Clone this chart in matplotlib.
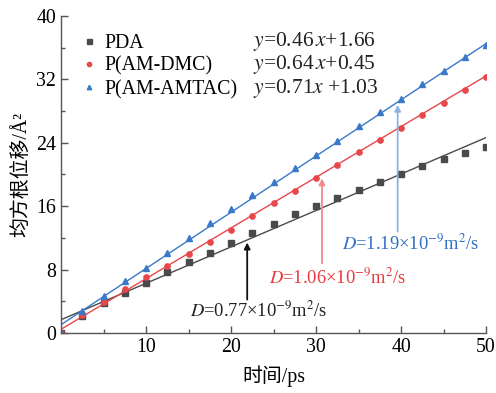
import numpy as np
import matplotlib
matplotlib.use("Agg")
import matplotlib.pyplot as plt

plt.rcParams['font.family'] = ['Liberation Serif', 'Noto Sans CJK SC']
plt.rcParams['mathtext.fontset'] = 'stix'
plt.rcParams['font.size'] = 14.3

# time (ps)
t = [0, 2.5, 5, 7.5, 10, 12.5, 15, 17.5, 20, 22.5, 25, 27.5, 30,
     32.5, 35, 37.5, 40, 42.5, 45, 47.5, 50]

# mean square displacement values
pda = [0, 2.1, 3.8, 5.05, 6.35, 7.7, 8.9, 10.1, 11.4, 12.6, 13.8, 15.0, 16.0,
       17.05, 18.0, 19.1, 20.1, 21.1, 21.9, 22.7, 23.5]
dmc = [0, 2.2, 3.95, 5.5, 7.0, 8.5, 9.95, 11.5, 13.0, 14.75, 16.35, 17.95, 19.5,
       21.2, 22.8, 24.3, 25.9, 27.5, 29.05, 30.65, 32.35]
amtac = [0, 2.7, 4.65, 6.55, 8.25, 10.1, 12.0, 13.9, 15.7, 17.4, 19.1, 20.8, 22.4,
         24.2, 26.1, 27.85, 29.55, 31.4, 33.1, 34.8, 36.4]

labels = ['PDA', 'P(AM-DMC)', 'P(AM-AMTAC)']
slopes = [0.46, 0.64, 0.71]
intercepts = [1.66, 0.45, 1.03]
eq_texts = [r'$y$=0.46$\,x$+1.66', r'$y$=0.64$\,x$+0.45', r'$y$=0.71$x$ +1.03']
d_texts = [r'$D$=0.77×10$^{-9}$m$^{2}$/s',
           r'$D$=1.06×10$^{-9}$m$^{2}$/s',
           r'$D$=1.19×10$^{-9}$m$^{2}$/s']

colors = ['#4a4a4a', '#e8474c', '#3a78c9']
arrow_colors = ['#111111', '#f08a8c', '#8db3e2']
text_colors = ['#222222', '#e8383d', '#2f6fc4']
markers = ['s', 'o', '^']
msizes = [4.5, 3.8, 4.0]

fig = plt.figure(figsize=(4.96, 3.93), dpi=100)
ax = fig.add_axes([0.123, 0.153, 0.857, 0.806])

xs = np.array([0, 50])
series = [pda, dmc, amtac]
for i in range(3):
    ax.plot(t, series[i], linestyle='none', marker=markers[i], ms=msizes[i],
            color=colors[i], label=labels[i])
    ax.plot(xs, slopes[i] * xs + intercepts[i], color=colors[i], lw=1.0)

# equations next to the legend
eq_y = [36.8, 33.9, 30.9]
for i in range(3):
    ax.text(22.6, eq_y[i], eq_texts[i], ha='left', va='center', color='#222222',
            fontsize=15.5)

# arrows and diffusion coefficients
arrow_x = [21.9, 30.7, 39.6]
arrow_top = [11.4, 19.5, 28.8]
arrow_bottom = [4.2, 8.8, 12.8]
text_x = [23.3, 32.5, 41.1]
text_y = [2.8, 7.0, 11.35]
for i in range(3):
    ax.annotate('', xy=(arrow_x[i], arrow_top[i]), xytext=(arrow_x[i], arrow_bottom[i]),
                arrowprops=dict(arrowstyle='-|>', color=arrow_colors[i], lw=1.3,
                                mutation_scale=9, shrinkA=0, shrinkB=0))
    ax.text(text_x[i], text_y[i], d_texts[i], ha='center', va='center',
            color=text_colors[i], fontsize=13.3)

ax.set_xlim(0, 50)
ax.set_ylim(0, 40)
ax.set_xticks([10, 20, 30, 40, 50])
ax.set_xticks(np.arange(5, 50, 10), minor=True)
ax.set_yticks([0, 8, 16, 24, 32, 40])
ax.set_yticks(np.arange(4, 40, 8), minor=True)
ax.tick_params(direction='in', length=5, width=1, color='#555555')
ax.tick_params(which='minor', direction='in', length=3, width=1, color='#555555')
for s in ['top', 'right']:
    ax.spines[s].set_visible(False)
for s in ['left', 'bottom']:
    ax.spines[s].set_color('#555555')
    ax.spines[s].set_linewidth(1.0)

ax.set_xlabel('时间/ps', labelpad=6)
ax.set_ylabel('均方根位移/Å²', labelpad=4)

ax.legend(loc='upper left', bbox_to_anchor=(0.025, 0.97), frameon=False,
          handlelength=0.9, handletextpad=0.35, labelspacing=0.2,
          markerscale=0.8, borderaxespad=0)

fig.savefig('out.png', dpi=100)
